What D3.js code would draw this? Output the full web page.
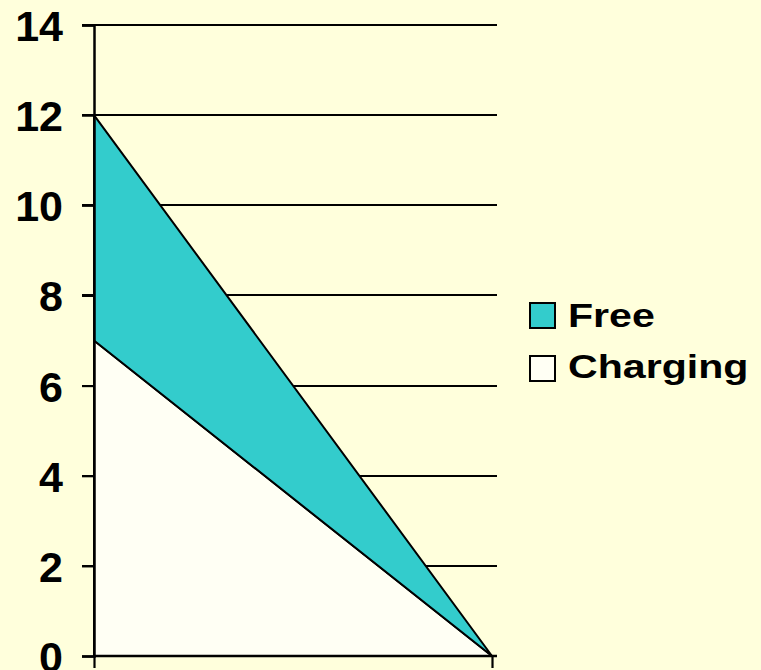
<!DOCTYPE html>
<html><head><meta charset="utf-8">
<script src="https://cdn.jsdelivr.net/npm/d3@7"></script>
<style>body{margin:0;background:#FFFFDC;}svg{display:block;}</style>
</head><body>
<svg id="c" width="761" height="670"></svg>
<script>
const categories = ["Period 1", "Period 2"];
const seriesNames = ["Charging", "Free"];
const charging = [7, 0];
const free = [5, 0];
const yTicks = [0, 2, 4, 6, 8, 10, 12, 14];

const svg = d3.select("#c");
svg.append("rect").attr("width",761).attr("height",670).attr("fill","#FFFFDC");

const x = d3.scalePoint().domain(categories).range([94, 492]);
const y = d3.scaleLinear().domain([0, 14]).range([656, 25]);

const rows = categories.map((c,i)=>({cat:c, Charging:charging[i], Free:free[i]}));
const stack = d3.stack().keys(seriesNames)(rows);
const colors = {Charging:"#FFFFF4", Free:"#33CCCC"};

// gridlines
svg.append("g").selectAll("line").data(yTicks.filter(t=>t>0)).join("line")
  .attr("x1",82).attr("x2",497).attr("y1",d=>Math.round(y(d))).attr("y2",d=>Math.round(y(d)))
  .attr("stroke","#000").attr("stroke-width",2.2);

// areas
const area = d3.area().x(d=>x(d.data.cat)).y0(d=>y(d[0])).y1(d=>y(d[1]));
svg.append("g").selectAll("path").data(stack).join("path")
  .attr("d",area).attr("fill",d=>colors[d.key])
  .attr("stroke","#000").attr("stroke-width",2).attr("stroke-linejoin","round");

// y axis
const yAxis = d3.axisLeft(y).tickValues(yTicks).tickSize(12).tickFormat(d3.format("d"));
const ya = svg.append("g").attr("transform","translate(94,0)").call(yAxis);
ya.select(".domain").attr("stroke","#000").attr("stroke-width",2.5);
ya.selectAll(".tick line").attr("stroke","#000").attr("stroke-width",2.2);
ya.selectAll(".tick text").attr("x",-31).attr("dy","0.36em")
  .attr("font-family","Liberation Sans, Arial, sans-serif").attr("font-weight","bold")
  .attr("font-size",43).attr("fill","#000");

// x axis
const xAxis = d3.axisBottom(x).tickSize(12).tickFormat("");
const xa = svg.append("g").attr("transform","translate(0,656)").call(xAxis);
xa.select(".domain").attr("d","M94,0H497").attr("stroke","#000").attr("stroke-width",2.5);
xa.selectAll(".tick line").attr("stroke","#000").attr("stroke-width",2.2);

// legend
const legendItems = [{name:"Free", top:303, base:327},{name:"Charging", top:356, base:378}];
const lg = svg.append("g");
lg.selectAll("rect").data(legendItems).join("rect")
  .attr("x",530).attr("y",d=>d.top).attr("width",25).attr("height",25)
  .attr("fill",d=>colors[d.name]).attr("stroke","#000").attr("stroke-width",2);
lg.selectAll("text").data(legendItems).join("text")
  .attr("transform",d=>`translate(568,${d.base}) scale(1.21,1)`).text(d=>d.name)
  .attr("font-family","Liberation Sans, Arial, sans-serif").attr("font-weight","bold")
  .attr("font-size",34).attr("fill","#000");
</script>
</body></html>
